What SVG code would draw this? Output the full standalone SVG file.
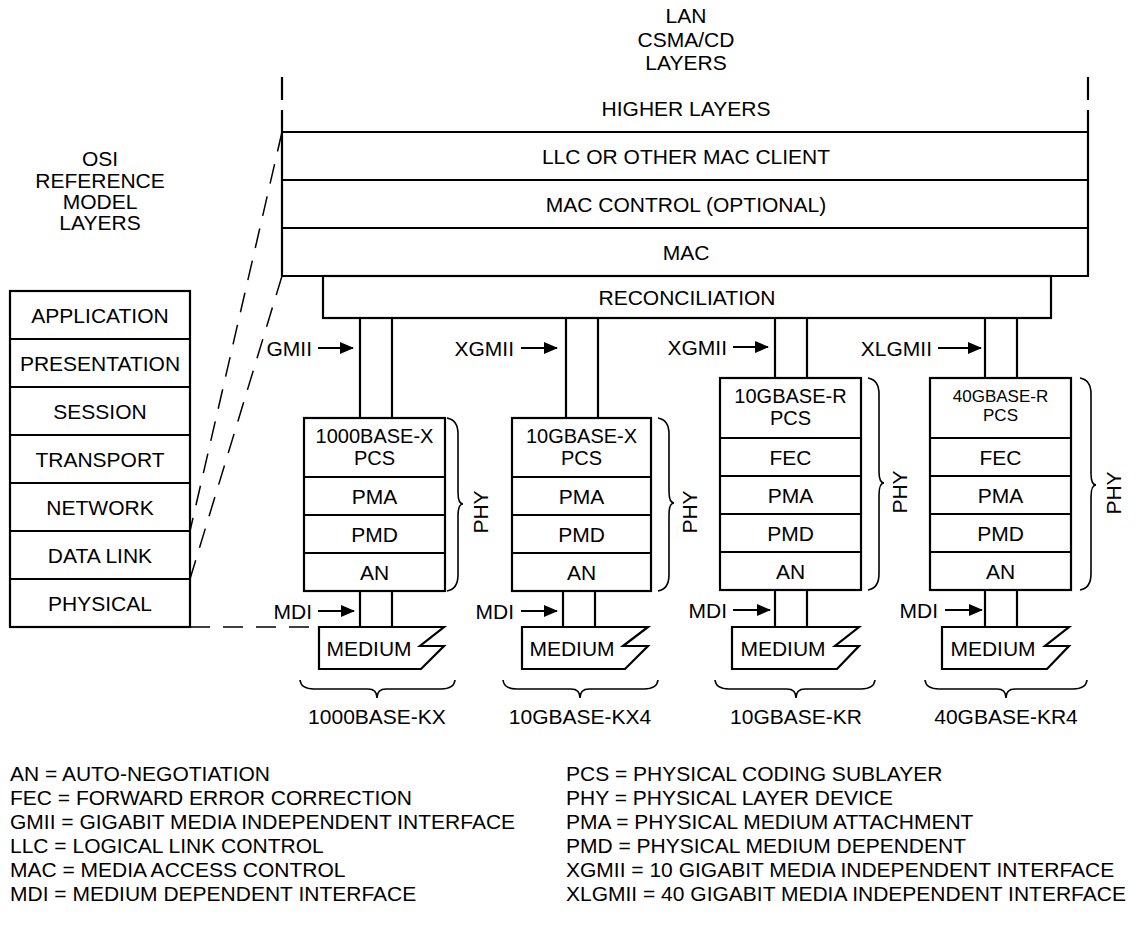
<svg xmlns="http://www.w3.org/2000/svg" width="1146" height="932" viewBox="0 0 1146 932">
<style>
.b{fill:#fff;stroke:#000;stroke-width:2.2}
.l{fill:none;stroke:#000;stroke-width:2.2}
.a{fill:none;stroke:#000;stroke-width:2}
.d{fill:none;stroke:#000;stroke-width:1.5;stroke-dasharray:20 13}
.br{fill:none;stroke:#000;stroke-width:1.6}
text{font-family:"Liberation Sans",Arial,Helvetica,sans-serif;font-size:21px;fill:#000}
.c{text-anchor:middle}
.r{text-anchor:end}
.p{font-size:20px}
.s{font-size:17px}
</style>
<defs>
<marker id="arr" markerWidth="14" markerHeight="12" refX="13" refY="6" orient="auto" markerUnits="userSpaceOnUse"><path d="M0,0 L14,6 L0,12 z" fill="#000"/></marker>
</defs>
<rect width="1146" height="932" fill="#fff"/>

<g id="lan-header">
<text class="c" x="686" y="23">LAN</text>
<text class="c" x="686" y="47">CSMA/CD</text>
<text class="c" x="686" y="70">LAYERS</text>
</g>

<g id="lan-stack">
<path class="l" d="M282,77 V100 M1088,77 V100 M282,110 V276 H1088 V110"/>
<path class="l" d="M282,132 H1088 M282,180 H1088 M282,228 H1088"/>
<text class="c" x="686" y="116">HIGHER LAYERS</text>
<text class="c" x="686" y="164">LLC OR OTHER MAC CLIENT</text>
<text class="c" x="686" y="212">MAC CONTROL (OPTIONAL)</text>
<text class="c" x="686" y="260">MAC</text>
</g>

<g id="reconciliation">
<rect class="b" x="323" y="276" width="728" height="42"/>
<text class="c" x="687" y="305">RECONCILIATION</text>
</g>

<g id="osi-header">
<text class="c" x="100" y="166">OSI</text>
<text class="c" x="100" y="188">REFERENCE</text>
<text class="c" x="100" y="209">MODEL</text>
<text class="c" x="100" y="230">LAYERS</text>
</g>

<g id="osi-stack">
<rect class="b" x="10" y="291" width="180" height="336"/>
<path class="l" d="M10,339 H190 M10,387 H190 M10,435 H190 M10,483 H190 M10,531 H190 M10,579 H190"/>
<text class="c" x="100" y="323">APPLICATION</text>
<text class="c" x="100" y="371">PRESENTATION</text>
<text class="c" x="100" y="419">SESSION</text>
<text class="c" x="100" y="467">TRANSPORT</text>
<text class="c" x="100" y="515">NETWORK</text>
<text class="c" x="100" y="563">DATA LINK</text>
<text class="c" x="100" y="611">PHYSICAL</text>
</g>

<g id="connectors">
<path class="d" d="M282,132 L190,531"/>
<path class="d" d="M282,276 L190,579"/>
<path class="d" d="M190,627 H312"/>
<path class="l" d="M360,318 V418 M392,318 V418 M360,591 V627 M392,591 V627"/>
<path class="l" d="M566,318 V418 M598,318 V418 M563,591 V627 M595,591 V627"/>
<path class="l" d="M775,318 V378 M807,318 V378 M775,590 V627 M807,590 V627"/>
<path class="l" d="M985,318 V378 M1017,318 V378 M985,590 V627 M1017,590 V627"/>
<line class="a" x1="318" y1="348" x2="353" y2="348" marker-end="url(#arr)"/>
<line class="a" x1="521" y1="348" x2="557" y2="348" marker-end="url(#arr)"/>
<line class="a" x1="733" y1="347" x2="768" y2="347" marker-end="url(#arr)"/>
<line class="a" x1="938" y1="348" x2="981" y2="348" marker-end="url(#arr)"/>
<line class="a" x1="318" y1="611" x2="354" y2="611" marker-end="url(#arr)"/>
<line class="a" x1="521" y1="611" x2="557" y2="611" marker-end="url(#arr)"/>
<line class="a" x1="733" y1="610" x2="770" y2="610" marker-end="url(#arr)"/>
<line class="a" x1="945" y1="610" x2="982" y2="610" marker-end="url(#arr)"/>
<text class="r" x="312" y="356">GMII</text>
<text class="r" x="514" y="356">XGMII</text>
<text class="r" x="727" y="355">XGMII</text>
<text class="r" x="932" y="356">XLGMII</text>
<text class="r" x="312" y="619">MDI</text>
<text class="r" x="514" y="619">MDI</text>
<text class="r" x="727" y="618">MDI</text>
<text class="r" x="938" y="618">MDI</text>
</g>

<g id="phy-1000base-kx">
<rect class="b" x="304" y="418" width="141" height="173"/>
<path class="l" d="M304,477 H445 M304,515 H445 M304,553 H445"/>
<text class="c p" x="374.5" y="443">1000BASE-X</text>
<text class="c p" x="374.5" y="465">PCS</text>
<text class="c" x="374.5" y="504">PMA</text>
<text class="c" x="374.5" y="542">PMD</text>
<text class="c" x="374.5" y="580">AN</text>
<path class="br" d="M447,418 Q458,420 458,434 V492 Q458,504 463,504 Q458,504 458,516 V575 Q458,589 447,591"/>
<text class="c" transform="translate(488,512) rotate(-90)">PHY</text>
<path class="b" d="M319,627 H444 L420,646 H444 L421,669 H319 Z"/>
<text class="c" x="369" y="656">MEDIUM</text>
<path class="br" d="M300,680 Q301,689 314,689 H368 Q377,689 377,698 Q377,689 386,689 H441 Q454,689 455,680"/>
<text class="c" x="377" y="724">1000BASE-KX</text>
</g>

<g id="phy-10gbase-kx4">
<rect class="b" x="512" y="418" width="139" height="173"/>
<path class="l" d="M512,477 H651 M512,515 H651 M512,553 H651"/>
<text class="c p" x="581.5" y="443">10GBASE-X</text>
<text class="c p" x="581.5" y="465">PCS</text>
<text class="c" x="581.5" y="504">PMA</text>
<text class="c" x="581.5" y="542">PMD</text>
<text class="c" x="581.5" y="580">AN</text>
<path class="br" d="M658,418 Q669,420 669,434 V491 Q669,503 674,503 Q669,503 669,515 V575 Q669,589 658,591"/>
<text class="c" transform="translate(697,512) rotate(-90)">PHY</text>
<path class="b" d="M522,627 H648 L623,646 H648 L625,669 H522 Z"/>
<text class="c" x="572" y="656">MEDIUM</text>
<path class="br" d="M503,680 Q504,689 517,689 H571 Q580,689 580,698 Q580,689 589,689 H644 Q657,689 658,680"/>
<text class="c" x="580" y="724">10GBASE-KX4</text>
</g>

<g id="phy-10gbase-kr">
<rect class="b" x="720" y="378" width="141" height="212"/>
<path class="l" d="M720,438 H861 M720,476 H861 M720,514 H861 M720,552 H861"/>
<text class="c p" x="790.5" y="403">10GBASE-R</text>
<text class="c p" x="790.5" y="425">PCS</text>
<text class="c" x="790.5" y="465">FEC</text>
<text class="c" x="790.5" y="503">PMA</text>
<text class="c" x="790.5" y="541">PMD</text>
<text class="c" x="790.5" y="579">AN</text>
<path class="br" d="M868,378 Q879,380 879,394 V471 Q879,483 884,483 Q879,483 879,495 V574 Q879,588 868,590"/>
<text class="c" transform="translate(907,492) rotate(-90)">PHY</text>
<path class="b" d="M732,627 H859 L835,646 H859 L837,669 H732 Z"/>
<text class="c" x="783" y="656">MEDIUM</text>
<path class="br" d="M715,680 Q716,689 729,689 H787 Q796,689 796,698 Q796,689 805,689 H861 Q874,689 875,680"/>
<text class="c" x="796" y="724">10GBASE-KR</text>
</g>

<g id="phy-40gbase-kr4">
<rect class="b" x="930" y="378" width="141" height="212"/>
<path class="l" d="M930,438 H1071 M930,476 H1071 M930,514 H1071 M930,552 H1071"/>
<text class="c s" x="1000.5" y="402">40GBASE-R</text>
<text class="c s" x="1000.5" y="421">PCS</text>
<text class="c" x="1000.5" y="465">FEC</text>
<text class="c" x="1000.5" y="503">PMA</text>
<text class="c" x="1000.5" y="541">PMD</text>
<text class="c" x="1000.5" y="579">AN</text>
<path class="br" d="M1080,378 Q1091,380 1091,394 V473 Q1091,485 1096,485 Q1091,485 1091,497 V574 Q1091,588 1080,590"/>
<text class="c" transform="translate(1121,493) rotate(-90)">PHY</text>
<path class="b" d="M942,627 H1069 L1045,646 H1069 L1047,669 H942 Z"/>
<text class="c" x="993" y="656">MEDIUM</text>
<path class="br" d="M925,680 Q926,689 939,689 H997 Q1006,689 1006,698 Q1006,689 1015,689 H1073 Q1086,689 1087,680"/>
<text class="c" x="1006" y="724">40GBASE-KR4</text>
</g>

<g id="legend">
<text x="10" y="781">AN = AUTO-NEGOTIATION</text>
<text x="10" y="805">FEC = FORWARD ERROR CORRECTION</text>
<text x="10" y="829">GMII = GIGABIT MEDIA INDEPENDENT INTERFACE</text>
<text x="10" y="853">LLC = LOGICAL LINK CONTROL</text>
<text x="10" y="877">MAC = MEDIA ACCESS CONTROL</text>
<text x="10" y="901">MDI = MEDIUM DEPENDENT INTERFACE</text>
<text x="566" y="781">PCS = PHYSICAL CODING SUBLAYER</text>
<text x="566" y="805">PHY = PHYSICAL LAYER DEVICE</text>
<text x="566" y="829">PMA = PHYSICAL MEDIUM ATTACHMENT</text>
<text x="566" y="853">PMD = PHYSICAL MEDIUM DEPENDENT</text>
<text x="566" y="877">XGMII = 10 GIGABIT MEDIA INDEPENDENT INTERFACE</text>
<text x="566" y="901">XLGMII = 40 GIGABIT MEDIA INDEPENDENT INTERFACE</text>
</g>
</svg>
